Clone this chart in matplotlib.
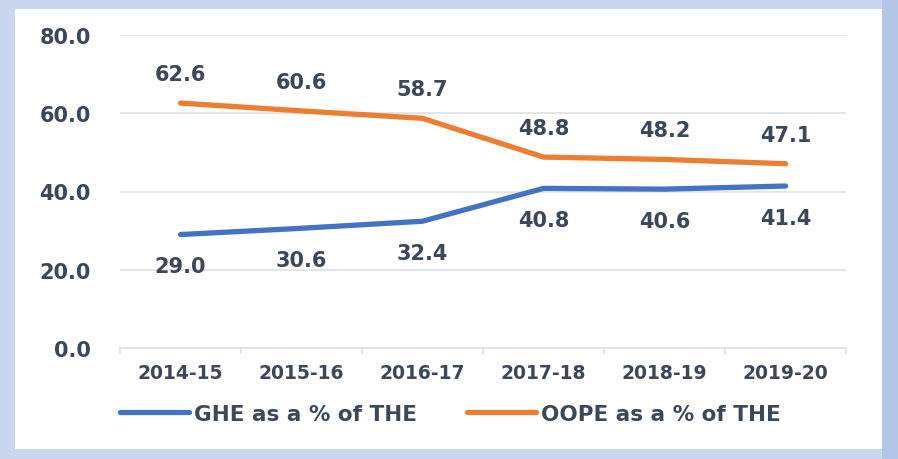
import matplotlib
matplotlib.use("Agg")
import matplotlib.pyplot as plt
from matplotlib.patches import Rectangle

categories = ["2014-15", "2015-16", "2016-17", "2017-18", "2018-19", "2019-20"]
ghe = [29.0, 30.6, 32.4, 40.8, 40.6, 41.4]
oope = [62.6, 60.6, 58.7, 48.8, 48.2, 47.1]
series_names = ["GHE as a % of THE", "OOPE as a % of THE"]
yticks = [0, 20, 40, 60, 80]

TXT = "#3C4758"
BLUE = "#4472C4"
ORANGE = "#ED7D31"
GRID = "#DDE1E8"

plt.rcParams['font.family'] = ['DejaVu Sans']
plt.rcParams['font.weight'] = 'bold'

fig = plt.figure(figsize=(8.98, 4.6), dpi=100, facecolor="#C9D7EF")
W, H = 898, 460
# right darker strip
fig.patches.append(Rectangle((882 / W, 0), 16 / W, 1, transform=fig.transFigure,
                             facecolor="#B3C6E7", edgecolor="none", zorder=-3))
# white panel
fig.patches.append(Rectangle((15 / W, 10 / H), 867 / W, 440 / H, transform=fig.transFigure,
                             facecolor="white", edgecolor="none", zorder=-2))

ax = fig.add_axes([120 / W, 1 - 349 / H, 726 / W, (349 - 36) / H])
ax.set_facecolor("none")
x = list(range(len(categories)))

ax.plot(x, ghe, color=BLUE, lw=3.8, solid_capstyle="round", solid_joinstyle="round",
        label=series_names[0], zorder=3)
ax.plot(x, oope, color=ORANGE, lw=3.8, solid_capstyle="round", solid_joinstyle="round",
        label=series_names[1], zorder=3)

for xi, v in zip(x, ghe):
    ax.annotate(f"{v:.1f}", (xi, v), xytext=(0, -23), textcoords="offset points",
                ha="center", va="center", fontsize=15, fontweight="bold", color=TXT)
for xi, v in zip(x, oope):
    ax.annotate(f"{v:.1f}", (xi, v), xytext=(0, 21), textcoords="offset points",
                ha="center", va="center", fontsize=15, fontweight="bold", color=TXT)

ax.set_xlim(-0.5, len(categories) - 0.5)
ax.set_ylim(0, 80)
ax.set_yticks(yticks)
ax.set_yticklabels([f"{t:.1f}" for t in yticks])
ax.set_xticks(x)
ax.set_xticklabels(categories)
ax.set_xticks([i - 0.5 for i in range(len(categories) + 1)], minor=True)

ax.grid(axis="y", color=GRID, lw=1.2, zorder=1)
for s in ["top", "right", "left"]:
    ax.spines[s].set_visible(False)
ax.spines["bottom"].set_color(GRID)
ax.spines["bottom"].set_linewidth(1.2)

ax.tick_params(axis="y", length=0, pad=21, labelsize=15, labelcolor=TXT)
ax.tick_params(axis="x", which="major", length=0, pad=11, labelsize=13.5, labelcolor=TXT)
ax.tick_params(axis="x", which="minor", length=4, width=1.2, color=GRID, direction="out")
for lab in ax.get_xticklabels() + ax.get_yticklabels():
    lab.set_fontweight("bold")

leg = ax.legend(loc="center left", bbox_to_anchor=(0.0, -0.21), ncol=2, frameon=False,
                fontsize=15.5, handlelength=3.2, handletextpad=0.25, columnspacing=2.3,
                borderaxespad=0, borderpad=0)
for t in leg.get_texts():
    t.set_color(TXT)
    t.set_fontweight("bold")
for l in leg.get_lines():
    l.set_linewidth(3.8)

fig.savefig("out.png", dpi=100, facecolor=fig.get_facecolor())
